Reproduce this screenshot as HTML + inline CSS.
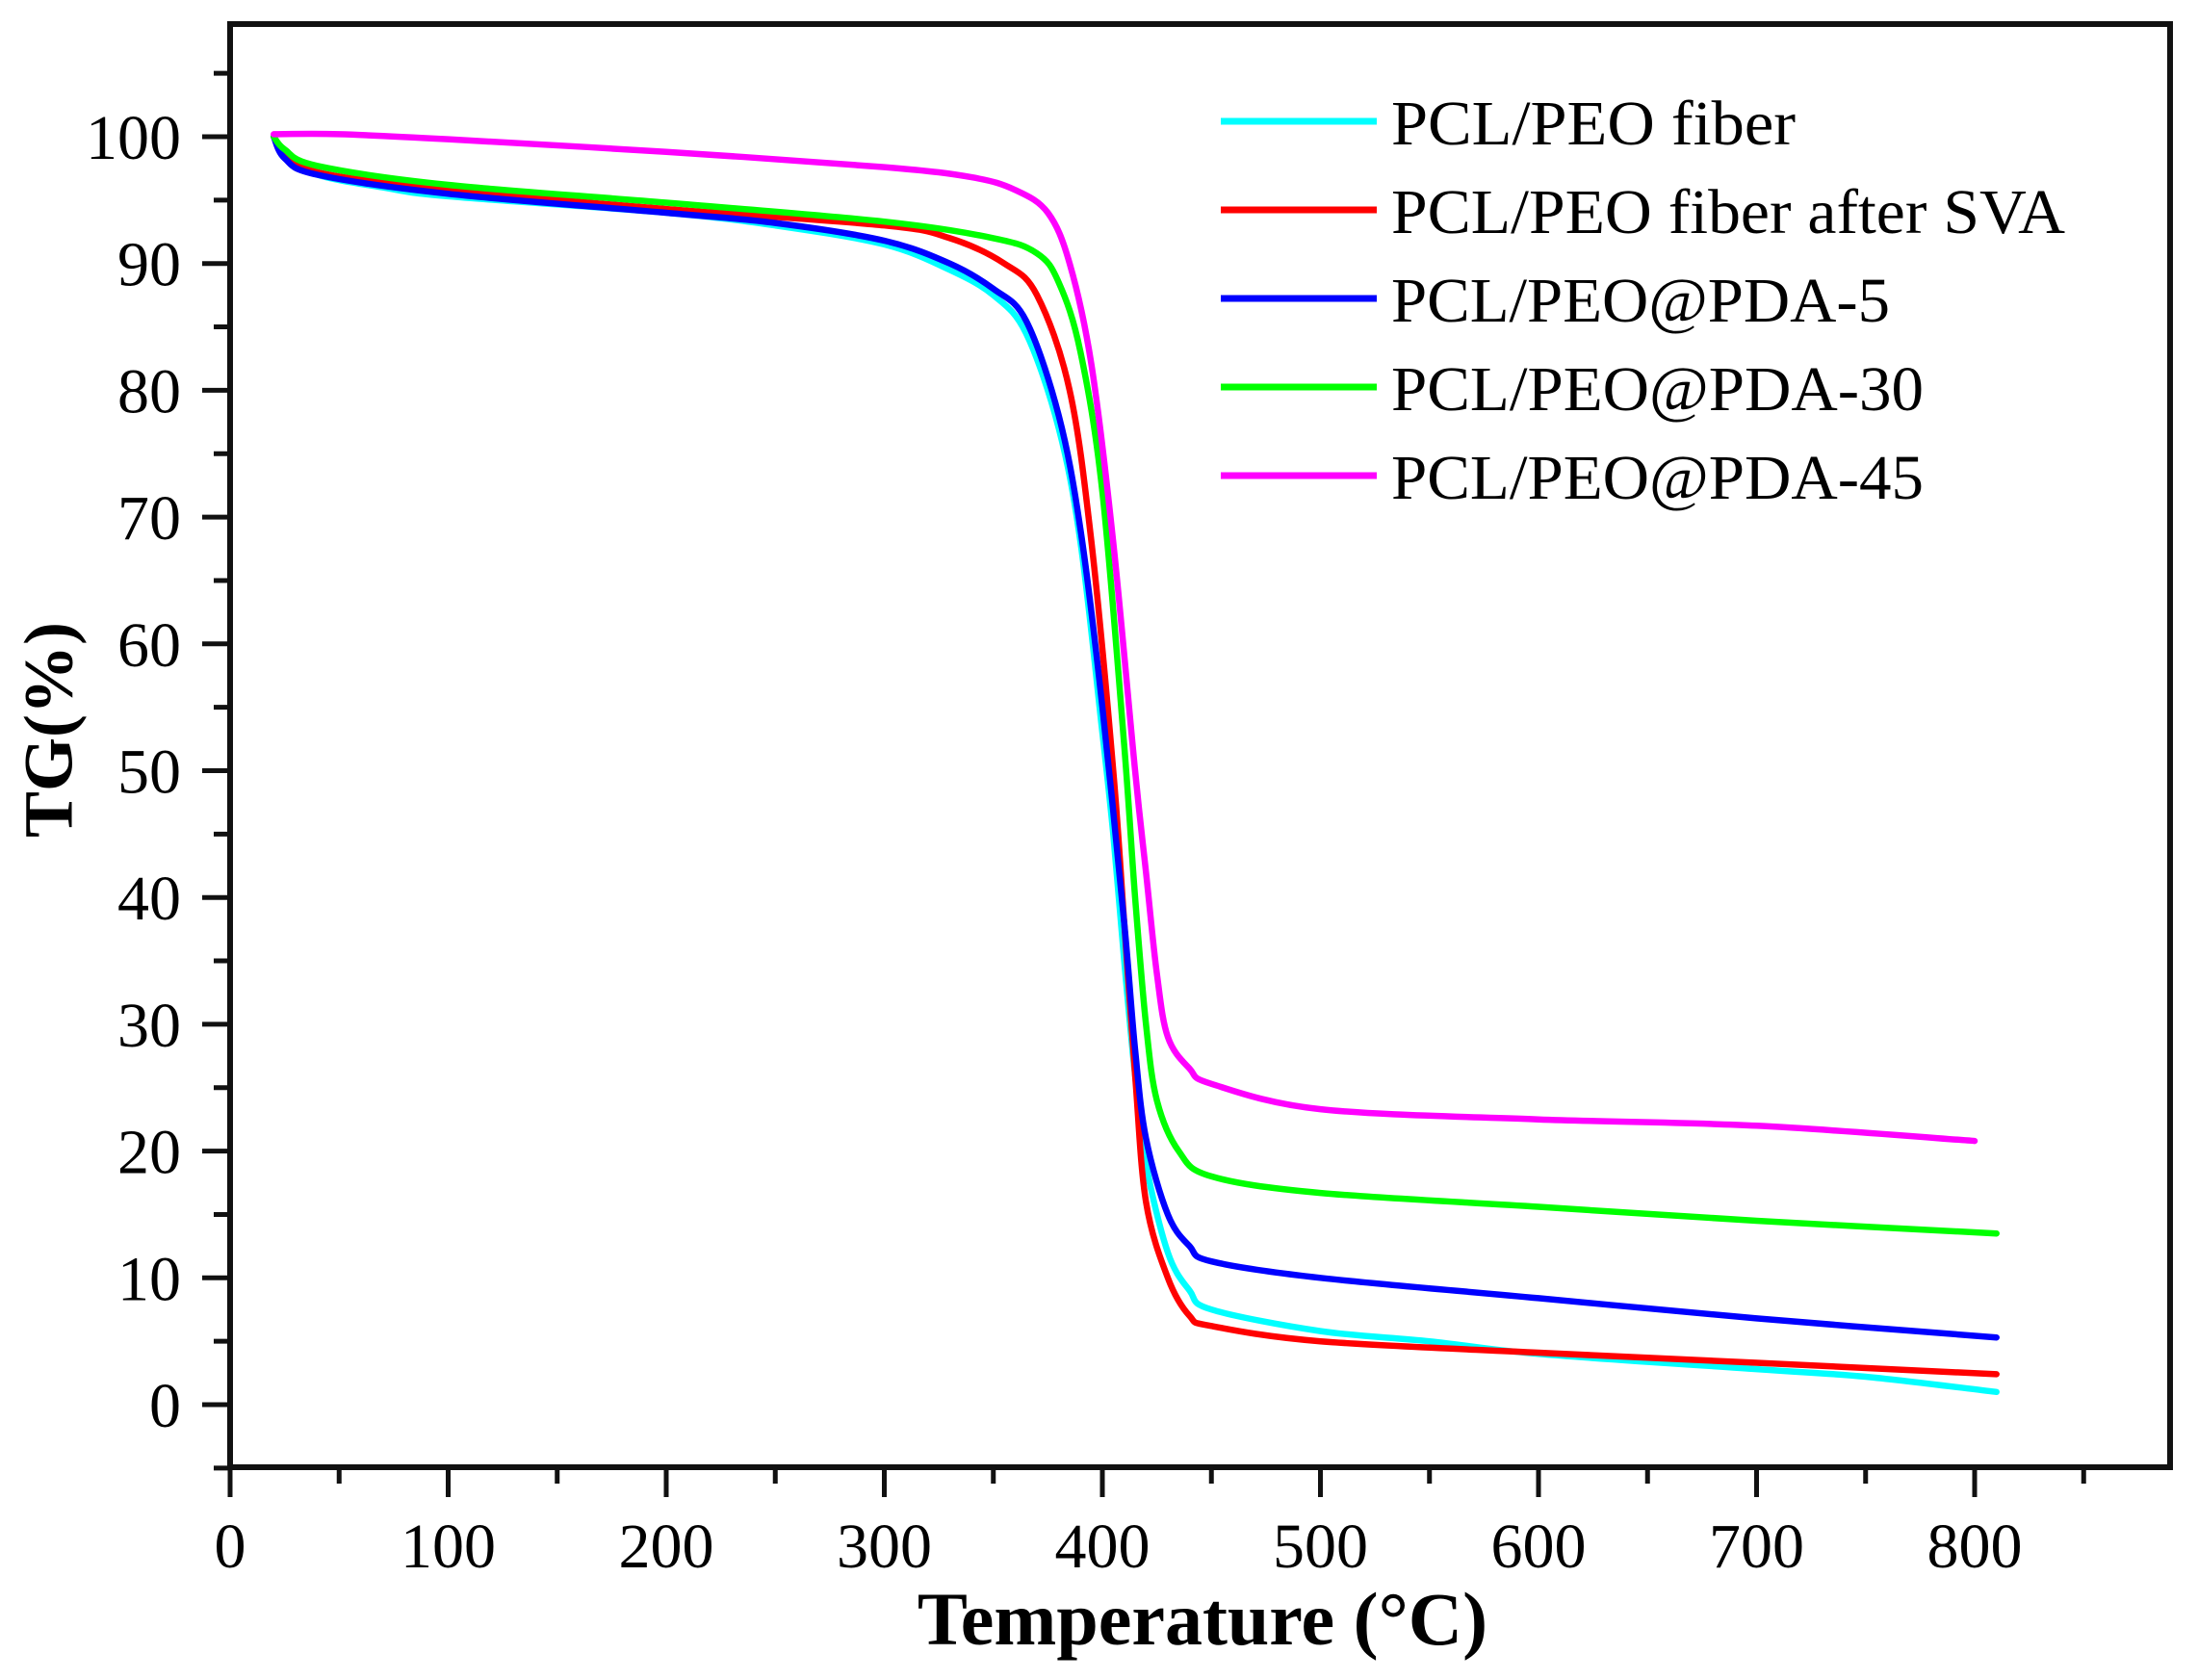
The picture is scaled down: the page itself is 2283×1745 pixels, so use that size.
<!DOCTYPE html>
<html><head><meta charset="utf-8"><style>
html,body{margin:0;padding:0;background:#fff;}
svg{display:block;}
text{font-family:"Liberation Serif",serif;fill:#000;}
</style></head><body>
<svg id="s" width="2283" height="1745" xmlns="http://www.w3.org/2000/svg">
<rect x="0" y="0" width="2283" height="1745" fill="#fff"/>
<g id="curves" fill="none" stroke-width="6.5" stroke-linejoin="round" stroke-linecap="round"></g>
<g id="axes"></g>
<g id="labels" font-size="66"></g>
<text x="58" y="758" font-size="72" font-weight="bold" text-anchor="middle" transform="rotate(-90 58 758)" dominant-baseline="middle">TG(%)</text>
<text x="1249" y="1708" font-size="78" font-weight="bold" text-anchor="middle">Temperature (°C)</text>
<g font-size="66">
<line x1="1268" y1="126" x2="1430" y2="126" stroke="#00ffff" stroke-width="7"/>
<text x="1445" y="150" textLength="420" lengthAdjust="spacingAndGlyphs">PCL/PEO fiber</text>
<line x1="1268" y1="218" x2="1430" y2="218" stroke="#ff0000" stroke-width="7"/>
<text x="1445" y="242" textLength="700" lengthAdjust="spacingAndGlyphs">PCL/PEO fiber after SVA</text>
<line x1="1268" y1="310" x2="1430" y2="310" stroke="#0000ff" stroke-width="7"/>
<text x="1445" y="334" textLength="518" lengthAdjust="spacingAndGlyphs">PCL/PEO@PDA-5</text>
<line x1="1268" y1="402" x2="1430" y2="402" stroke="#00ff00" stroke-width="7"/>
<text x="1445" y="426" textLength="553" lengthAdjust="spacingAndGlyphs">PCL/PEO@PDA-30</text>
<line x1="1268" y1="494" x2="1430" y2="494" stroke="#ff00ff" stroke-width="7"/>
<text x="1445" y="518" textLength="553" lengthAdjust="spacingAndGlyphs">PCL/PEO@PDA-45</text>
</g>
</svg>
<script>
var NS="http://www.w3.org/2000/svg";
function X(t){return 239+2.265*t;} function Y(v){return 1459-13.17*v;}
function el(p,n,a){var e=document.createElementNS(NS,n);for(var k in a)e.setAttribute(k,a[k]);p.appendChild(e);return e;}
var data={
"#00ffff":[[20,100],[25,98.5],[40,97],[70,96],[100,95.3],[200,94],[250,93],[300,91.5],[330,89.5],[350,87.5],[365,84.5],[380,77],[390,68],[400,53],[405,45],[410,35],[415,26],[420,19],[430,12],[440,9],[450,7.5],[500,5.8],[550,5],[600,4],[700,2.8],[750,2.2],[810,1]],
"#ff0000":[[20,100],[25,98.8],[40,97.2],[100,95.8],[200,94.3],[300,93],[330,92],[355,90],[370,87.5],[385,80],[395,68],[405,50],[410,38],[415,26],[420,16],[430,10],[440,7],[450,6.2],[500,5],[600,4.1],[700,3.3],[810,2.4]],
"#0000ff":[[20,100],[25,98.3],[40,97],[100,95.5],[200,94],[250,93.2],[300,91.8],[330,90],[350,88],[365,85.5],[380,78],[390,69],[400,55],[410,38],[415,28],[420,21],[430,15],[440,12.5],[450,11.3],[500,10],[600,8.4],[700,6.8],[810,5.3]],
"#00ff00":[[20,100],[25,99],[40,97.7],[100,96.2],[200,94.8],[300,93.3],[350,92],[370,90.8],[380,88.5],[390,83],[400,72],[410,52],[415,40],[420,30],[425,24],[435,20],[450,18],[500,16.7],[600,15.6],[700,14.5],[810,13.5]],
"#ff00ff":[[20,100.2],[50,100.2],[100,99.8],[200,98.8],[300,97.6],[340,96.8],[360,95.8],[375,94],[385,90],[395,82],[405,68],[415,50],[420,42],[425,34],[430,29],[440,26.5],[450,25.3],[500,23.3],[600,22.5],[700,22],[800,20.8]]};
function smooth(pts){
 var p=pts.map(function(a){return [X(a[0]),Y(a[1])];});
 var d="M"+p[0][0].toFixed(1)+","+p[0][1].toFixed(1);
 for(var i=0;i<p.length-1;i++){
  var p0=p[i-1]||p[i],p1=p[i],p2=p[i+1],p3=p[i+2]||p2;
  var c1x=p1[0]+(p2[0]-p0[0])/6,c1y=p1[1]+(p2[1]-p0[1])/6;
  var c2x=p2[0]-(p3[0]-p1[0])/6,c2y=p2[1]-(p3[1]-p1[1])/6;
  d+="C"+c1x.toFixed(1)+","+c1y.toFixed(1)+" "+c2x.toFixed(1)+","+c2y.toFixed(1)+" "+p2[0].toFixed(1)+","+p2[1].toFixed(1);
 }
 return d;
}
var cg=document.getElementById("curves");
for(var c in data){el(cg,"path",{d:smooth(data[c]),stroke:c});}
var ag=document.getElementById("axes"),lg=document.getElementById("labels");
el(ag,"rect",{x:239,y:25,width:2015,height:1499,fill:"none",stroke:"#111","stroke-width":6});
for(var t=0;t<=850;t+=50){var x=X(t),maj=t%100==0;el(ag,"line",{x1:x,y1:1524,x2:x,y2:maj?1555:1541,stroke:"#111","stroke-width":5});
 if(maj){var e=el(lg,"text",{x:x,y:1628,"text-anchor":"middle"});e.textContent=t;}}
for(var v=-5;v<=105;v+=5){var y=Y(v),maj=v%10==0;el(ag,"line",{x1:239,y1:y,x2:maj?210:222,y2:y,stroke:"#111","stroke-width":5});
 if(maj&&v>=0){var e=el(lg,"text",{x:188,y:y+23,"text-anchor":"end"});e.textContent=v;}}
</script>
</body></html>
